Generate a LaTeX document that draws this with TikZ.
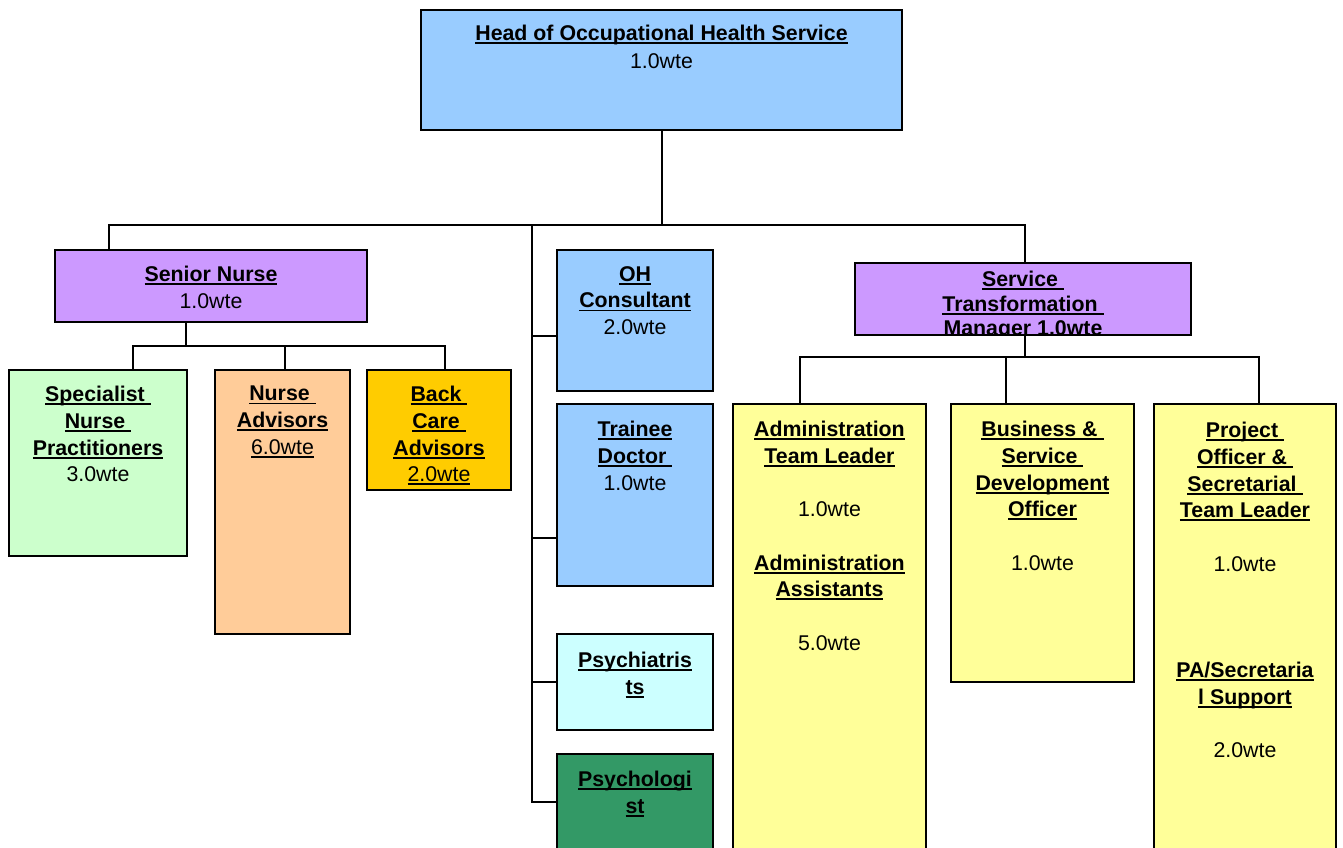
\documentclass[tikz,border=0pt]{standalone}
\usepackage{fontspec}
\setmainfont{Liberation Sans}
\definecolor{cBlue}{HTML}{99CCFF}
\definecolor{cPurple}{HTML}{CC99FF}
\definecolor{cGreen}{HTML}{CCFFCC}
\definecolor{cPeach}{HTML}{FFCC99}
\definecolor{cGold}{HTML}{FFCC00}
\definecolor{cCyan}{HTML}{CCFFFF}
\definecolor{cDkGreen}{HTML}{339966}
\definecolor{cYellow}{HTML}{FFFF99}
\newcommand\uu[1]{\setbox0\hbox{#1}\rlap{\rule[-2.6pt]{\wd0}{1.3pt}}\box0}
\newcommand\ub[1]{\uu{\bfseries #1}}
\newcommand\mkbox[6]{\node[box, fill=#6, minimum width={(#4-#2)*0.75pt}, minimum height={(#5-#3)*0.75pt}] (#1) at (#2,#3) {};}
\tikzset{
  box/.style={draw=black, line width=1.5pt, inner sep=0pt, outer sep=0pt, anchor=north west},
  txt/.style={anchor=north, inner sep=0pt, align=center, font=\fontsize{16}{20}\selectfont},
  conn/.style={line width=1.5pt, line cap=rect},
}
\begin{document}
\begin{tikzpicture}[x=0.75pt,y=-0.75pt]
\clip (0,0) rectangle (1343,848);
\fill[white] (0,0) rectangle (1343,848);
% boxes
\mkbox{head}{421}{10}{902}{130}{cBlue}
\mkbox{senior}{55}{250}{367}{322}{cPurple}
\mkbox{spec}{9}{370}{187}{556}{cGreen}
\mkbox{nadv}{215}{370}{350}{634}{cPeach}
\mkbox{back}{367}{370}{511}{490}{cGold}
\mkbox{oh}{557}{250}{713}{391}{cBlue}
\mkbox{trainee}{557}{404}{713}{586}{cBlue}
\mkbox{psychiat}{557}{634}{713}{730}{cCyan}
\mkbox{psycholog}{557}{754}{713}{870}{cDkGreen}
\mkbox{stm}{855}{263}{1191}{335}{cPurple}
\mkbox{admin}{733}{404}{926}{870}{cYellow}
\mkbox{busi}{951}{404}{1134}{682}{cYellow}
\mkbox{proj}{1154}{404}{1336}{870}{cYellow}
% connector coordinates
\coordinate (bL) at (109,225);
\coordinate (bM) at (532,225);
\coordinate (bR) at (1025,225);
\coordinate (s1) at (532,336);
\coordinate (s2) at (532,538);
\coordinate (s3) at (532,682);
\coordinate (s4) at (532,802);
\coordinate (nL) at (133,346);
\coordinate (nM) at (285,346);
\coordinate (nR) at (445,346);
\coordinate (nS) at (186,346);
\coordinate (rL) at (800,357);
\coordinate (rM) at (1006,357);
\coordinate (rR) at (1259,357);
\coordinate (rS) at (1025,357);
% connectors
\draw[conn] (head.south) -- (head.south |- bL);
\draw[conn] (bL) -- (bR);
\draw[conn] (bL) -- (bL |- senior.north);
\draw[conn] (bR) -- (bR |- stm.north);
\draw[conn] (bM) -- (s4);
\draw[conn] (s1) -- (s1 -| oh.west);
\draw[conn] (s2) -- (s2 -| trainee.west);
\draw[conn] (s3) -- (s3 -| psychiat.west);
\draw[conn] (s4) -- (s4 -| psycholog.west);
\draw[conn] (nS |- senior.south) -- (nS);
\draw[conn] (nL) -- (nR);
\draw[conn] (nL) -- (nL |- spec.north);
\draw[conn] (nM) -- (nM |- nadv.north);
\draw[conn] (nR) -- (nR |- back.north);
\draw[conn] (rS |- stm.south) -- (rS);
\draw[conn] (rL) -- (rR);
\draw[conn] (rL) -- (rL |- admin.north);
\draw[conn] (rM) -- (rM |- busi.north);
\draw[conn] (rR) -- (rR |- proj.north);
% texts
\node[txt] (tHead) at (661.5,25) {\ub{Head of Occupational Health Service}\\[1pt]1.0wte};
\node[txt] (tSenior) at (211,266) {\ub{Senior Nurse}\\1.0wte};
\node[txt] (tSpec) at (98,386) {\ub{Specialist\ }\\\ub{Nurse\ }\\\ub{Practitioners}\\3.0wte};
\node[txt] (tNadv) at (282.5,386) {\ub{Nurse\ }\\\ub{Advisors}\\\uu{6.0wte}};
\node[txt] (tBack) at (439,386) {\ub{Back\ }\\\ub{Care\ }\\\ub{Advisors}\\\uu{2.0wte}};
\node[txt] (tOh) at (635,266) {\ub{OH}\\\ub{Consultant}\\2.0wte};
\node[txt] (tTrainee) at (635,421) {\ub{Trainee}\\\ub{Doctor\ }\\1.0wte};
\node[txt] (tPsychiat) at (635,652) {\ub{Psychiatris}\\\ub{ts}};
\node[txt] (tPsycholog) at (635,771) {\ub{Psychologi}\\\ub{st}};
\begin{scope}
\clip (stm.south west) rectangle (stm.north east);
\node[txt, font=\fontsize{16}{18.4}\selectfont] (tStm) at (1023,271) {\ub{Service\ }\\\ub{Transformation\ }\\\ub{Manager 1.0wte}};
\end{scope}
\draw[line width=1.5pt] (stm.south west) rectangle (stm.north east);
\node[txt] (tAdmin) at (829.5,421) {\ub{Administration}\\\ub{Team Leader}\\\mbox{}\\1.0wte\\\mbox{}\\\ub{Administration}\\\ub{Assistants}\\\mbox{}\\5.0wte};
\node[txt] (tBusi) at (1042.5,421) {\ub{Business \&\ }\\\ub{Service\ }\\\ub{Development}\\\ub{Officer}\\\mbox{}\\1.0wte};
\node[txt] (tProj) at (1245,422) {\ub{Project\ }\\\ub{Officer \&\ }\\\ub{Secretarial\ }\\\ub{Team Leader}\\\mbox{}\\1.0wte\\\mbox{}\\\mbox{}\\\mbox{}\\\ub{PA/Secretaria}\\\ub{l Support}\\\mbox{}\\2.0wte};
\end{tikzpicture}
\end{document}
